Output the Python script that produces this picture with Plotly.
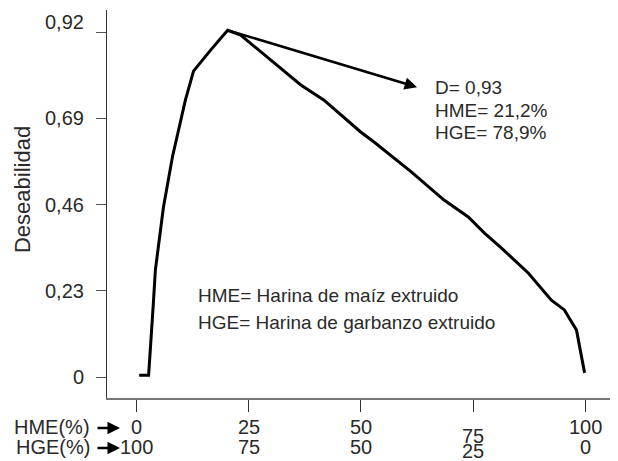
import plotly.graph_objects as go
import numpy as np

# Data
hme_pct = [0.6, 2.7, 3.8, 4.2, 6.0, 8.0, 10.9, 12.7, 16.5, 20.3, 23.2, 29.9, 36.6, 41.7,
           46.2, 50.0, 52.9, 61.2, 68.5, 73.9, 77.5, 81.3, 87.3, 92.4, 95.3, 98.0, 99.8]
desirability = [0.005, 0.005, 0.205, 0.285, 0.453, 0.587, 0.739, 0.816, 0.872, 0.925, 0.912,
                0.845, 0.779, 0.739, 0.693, 0.653, 0.627, 0.547, 0.472, 0.427, 0.384,
                0.344, 0.277, 0.205, 0.179, 0.125, 0.011]

y_ticks = [0, 0.23, 0.46, 0.69, 0.92]
y_ticktext = ["0", "0,23", "0,46", "0,69", "0,92"]
hme_ticks = [0, 25, 50, 75, 100]
hge_ticks = [100, 75, 50, 25, 0]

opt_lines = ["D= 0,93", "HME= 21,2%", "HGE= 78,9%"]
legend_lines = ["HME= Harina de maíz extruido", "HGE= Harina de garbanzo extruido"]

FONT = "Liberation Sans, Arial, sans-serif"
TXT = "#2a2a2a"

fig = go.Figure()
fig.add_trace(go.Scatter(x=hme_pct, y=desirability, mode="lines",
                         line=dict(color="black", width=3), hoverinfo="skip"))

ann = []
# y tick labels
for v, t in zip(y_ticks, y_ticktext):
    ann.append(dict(x=0, xref="paper", y=v, yref="y", text=t, showarrow=False,
                    xanchor="right", yanchor="middle", xshift=-21,
                    yshift=10 if v == max(y_ticks) else 0,
                    font=dict(size=20, color=TXT, family=FONT)))
# x tick labels (two rows)
for a, b in zip(hme_ticks, hge_ticks):
    ann.append(dict(x=a, xref="x", y=0, yref="paper", text=str(a), showarrow=False,
                    xanchor="center", yanchor="middle",
                    yshift=-38 if a == 75 else -29,
                    font=dict(size=20, color=TXT, family=FONT)))
    ann.append(dict(x=a, xref="x", y=0, yref="paper", text=str(b), showarrow=False,
                    xanchor="center", yanchor="middle",
                    yshift=-53 if b == 25 else -49,
                    font=dict(size=20, color=TXT, family=FONT)))
# row labels with arrows
for lab, ys in [("HME(%)", -29), ("HGE(%)", -49)]:
    ann.append(dict(x=0, xref="paper", y=0, yref="paper", text=lab, showarrow=False,
                    xanchor="right", yanchor="middle", xshift=-15, yshift=ys,
                    font=dict(size=20, color=TXT, family=FONT)))
    ann.append(dict(x=0, xref="paper", y=0, yref="paper", text="", showarrow=True,
                    xshift=13, yshift=ys - 1, ax=-24, ay=0, arrowhead=2,
                    arrowsize=1, arrowwidth=2.5, arrowcolor="black"))
# y axis title
ann.append(dict(x=0, xref="paper", y=0.536, yref="paper", text="Deseabilidad",
                showarrow=False, textangle=-90, xanchor="center", yanchor="middle",
                xshift=-85, font=dict(size=22, color=TXT, family=FONT)))
# arrow from optimum
i_max = int(np.argmax(desirability))
ann.append(dict(x=62.5, y=0.773, xref="x", yref="y", ax=hme_pct[i_max], ay=desirability[i_max],
                axref="x", ayref="y", text="", showarrow=True, arrowhead=2,
                arrowsize=1, arrowwidth=2.5, arrowcolor="black"))
for k, line in enumerate(opt_lines):
    ann.append(dict(x=66.1, y=0.771 - 0.059 * k, xref="x", yref="y", text=line,
                    showarrow=False, xanchor="left", yanchor="middle",
                    font=dict(size=19, color=TXT, family=FONT)))
for k, line in enumerate(legend_lines):
    ann.append(dict(x=13.25, y=0.218 - 0.072 * k, xref="x", yref="y", text=line,
                    showarrow=False, xanchor="left", yanchor="middle",
                    font=dict(size=19, color=TXT, family=FONT)))

fig.update_layout(
    width=618, height=461,
    margin=dict(l=107, r=8, t=10, b=63),
    paper_bgcolor="white", plot_bgcolor="white",
    showlegend=False,
    font=dict(family=FONT, color=TXT),
    annotations=ann,
    xaxis=dict(range=[-6.57, 105.46], showgrid=False, zeroline=False,
               showline=True, linecolor="#777", linewidth=1.5,
               tickvals=hme_ticks, ticks="outside", ticklen=12, tickcolor="#333",
               tickwidth=1, showticklabels=False),
    yaxis=dict(range=[-0.056, 0.979], showgrid=False, zeroline=False,
               showline=True, linecolor="#333", linewidth=1,
               tickvals=y_ticks, ticks="outside", ticklen=10, tickcolor="#555",
               tickwidth=1, showticklabels=False),
)

fig.write_html("out.html", config={"displayModeBar": False},
               post_script="document.body.style.margin='0';document.body.style.overflow='hidden';")
